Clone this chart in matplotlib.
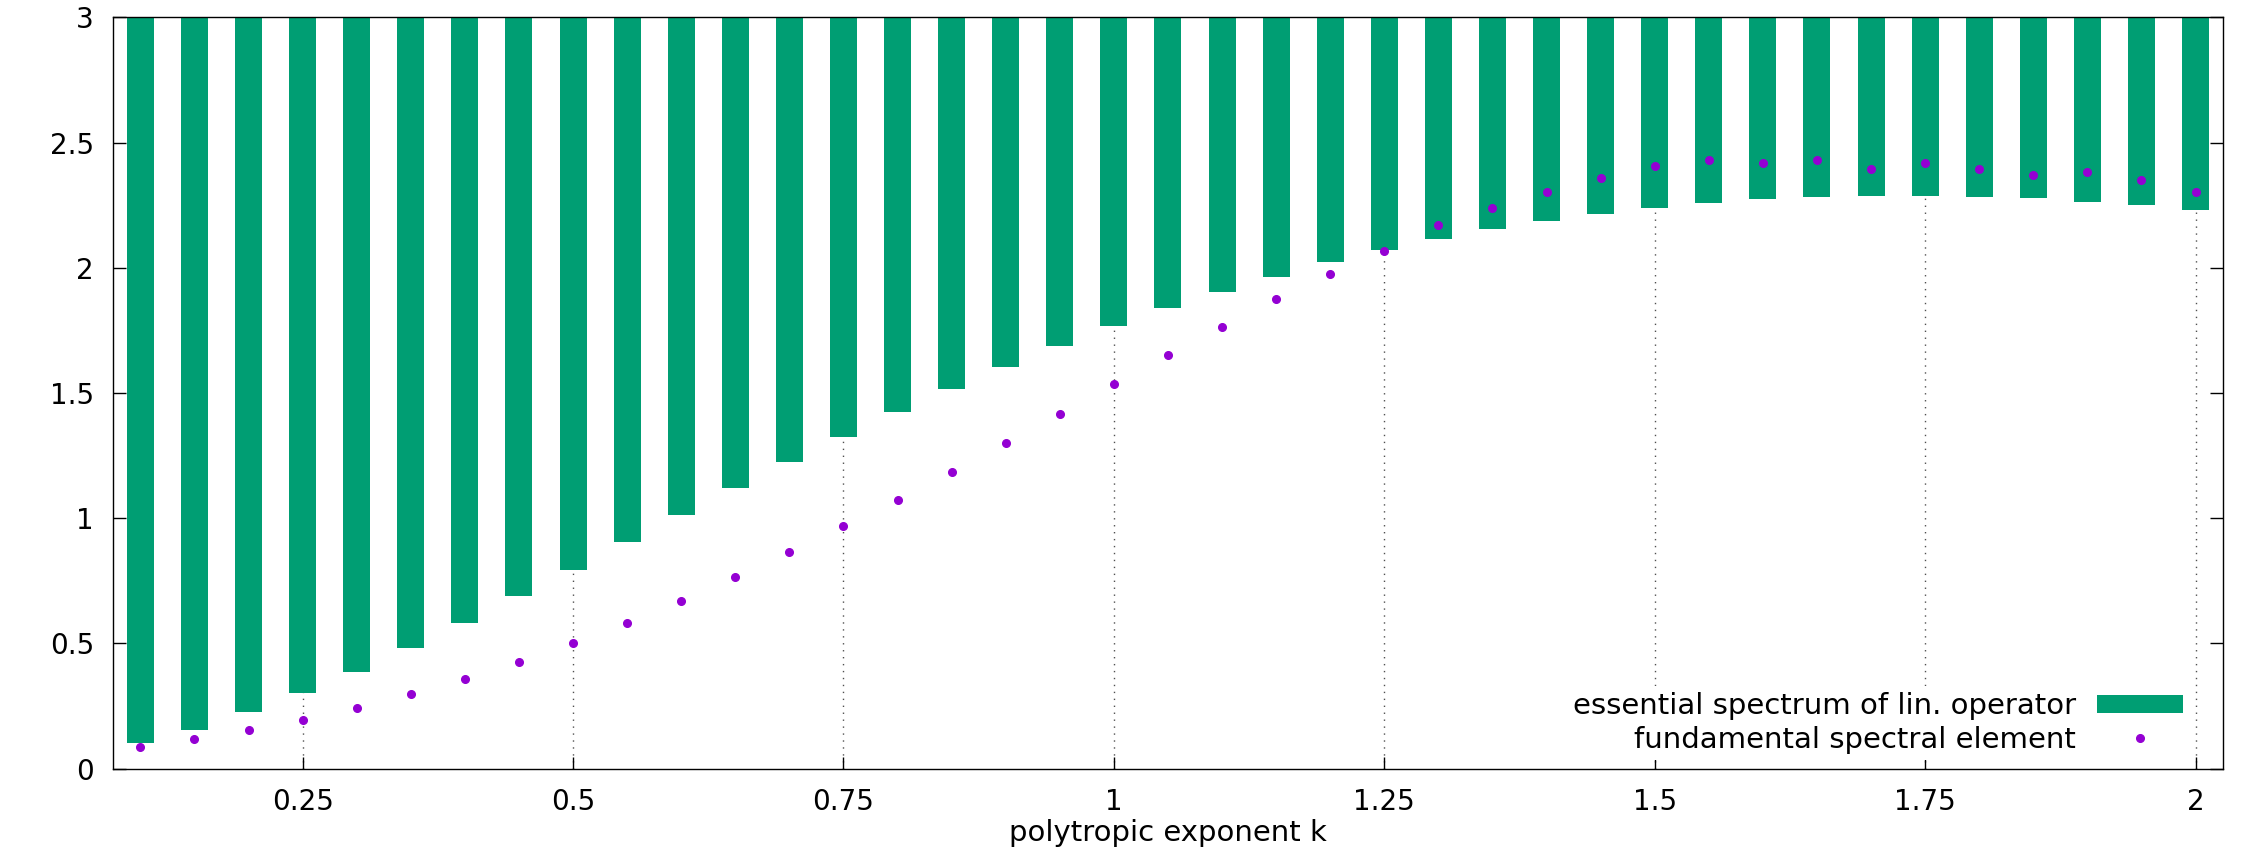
import matplotlib.pyplot as plt

# polytropic exponent k
k = [0.10, 0.15, 0.20, 0.25, 0.30, 0.35, 0.40, 0.45, 0.50, 0.55,
     0.60, 0.65, 0.70, 0.75, 0.80, 0.85, 0.90, 0.95, 1.00, 1.05,
     1.10, 1.15, 1.20, 1.25, 1.30, 1.35, 1.40, 1.45, 1.50, 1.55,
     1.60, 1.65, 1.70, 1.75, 1.80, 1.85, 1.90, 1.95, 2.00]

# lower edge of the essential spectrum (extends above the plot)
ess_lower = [0.104, 0.156, 0.225, 0.301, 0.387, 0.481, 0.580, 0.688, 0.792, 0.903,
             1.011, 1.119, 1.223, 1.323, 1.422, 1.515, 1.602, 1.686, 1.766, 1.838,
             1.905, 1.965, 2.022, 2.069, 2.113, 2.154, 2.188, 2.216, 2.240, 2.258,
             2.273, 2.281, 2.286, 2.286, 2.281, 2.277, 2.264, 2.249, 2.229]

# fundamental spectral element
fund = [0.087, 0.119, 0.154, 0.195, 0.242, 0.299, 0.359, 0.426, 0.502, 0.580,
        0.669, 0.764, 0.864, 0.968, 1.071, 1.184, 1.299, 1.416, 1.535, 1.652,
        1.764, 1.874, 1.974, 2.067, 2.169, 2.238, 2.303, 2.359, 2.407, 2.431,
        2.420, 2.431, 2.394, 2.420, 2.394, 2.372, 2.383, 2.351, 2.303]

x_ticks = [0.25, 0.5, 0.75, 1, 1.25, 1.5, 1.75, 2]
x_tick_labels = ['0.25', '0.5', '0.75', '1', '1.25', '1.5', '1.75', '2']
y_ticks = [0, 0.5, 1, 1.5, 2, 2.5, 3]
y_tick_labels = ['0', '0.5', '1', '1.5', '2', '2.5', '3']

y_top = 3.0

plt.rcParams['font.family'] = ['DejaVu Sans']

fig = plt.figure(figsize=(22.67, 8.5), dpi=100)
ax = fig.add_axes([0.050, 0.0958, 0.9304, 0.8838])

heights = [y_top - b for b in ess_lower]
bars = ax.bar(k, heights, bottom=ess_lower, width=0.025, color='#009E73',
              label='essential spectrum of lin. operator', zorder=2)
dots, = ax.plot(k, fund, linestyle='none', marker='o', markersize=5.5,
                color='#9400D3', label='fundamental spectral element', zorder=3)

ax.set_xlim(0.075, 2.025)
ax.set_ylim(0, 3)
ax.set_xticks(x_ticks)
ax.set_xticklabels(x_tick_labels)
ax.set_yticks(y_ticks)
ax.set_yticklabels(y_tick_labels)

ax.set_axisbelow(True)
ax.grid(axis='x', color='#505050', linestyle=(0, (1, 4)), linewidth=1.0)

ax.tick_params(axis='y', direction='in', length=9.5, width=1, right=True,
               labelsize=20, pad=14)
ax.tick_params(axis='x', direction='in', length=9, width=1, top=False,
               labelsize=20, pad=14)
for s in ax.spines.values():
    s.set_linewidth(1.0)

ax.set_xlabel('polytropic exponent k', fontsize=21, labelpad=2)

leg = ax.legend(handles=[bars, dots], loc='lower right',
                bbox_to_anchor=(0.988, 0.0), fontsize=21, markerfirst=False,
                frameon=True, facecolor='white', edgecolor='none',
                framealpha=1, fancybox=False, handlelength=2.95,
                handleheight=0.6, handletextpad=0.7, labelspacing=0.2,
                borderaxespad=0.3, borderpad=0.2)

fig.savefig('out.png', dpi=100)
